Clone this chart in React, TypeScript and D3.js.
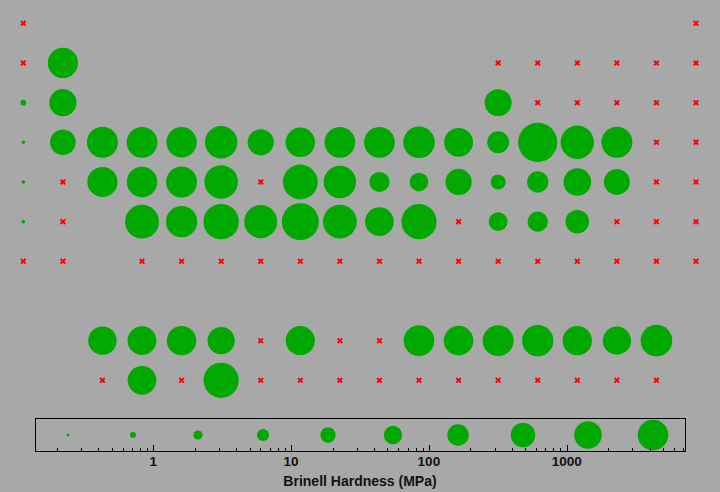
import React from "react";
import * as d3 from "d3";

// Element symbols in atomic-number order
const symbols = [
  "H","He","Li","Be","B","C","N","O","F","Ne","Na","Mg","Al","Si","P","S","Cl","Ar",
  "K","Ca","Sc","Ti","V","Cr","Mn","Fe","Co","Ni","Cu","Zn","Ga","Ge","As","Se","Br","Kr",
  "Rb","Sr","Y","Zr","Nb","Mo","Tc","Ru","Rh","Pd","Ag","Cd","In","Sn","Sb","Te","I","Xe",
  "Cs","Ba","La","Ce","Pr","Nd","Pm","Sm","Eu","Gd","Tb","Dy","Ho","Er","Tm","Yb","Lu",
  "Hf","Ta","W","Re","Os","Ir","Pt","Au","Hg","Tl","Pb","Bi","Po","At","Rn",
  "Fr","Ra","Ac","Th","Pa","U","Np","Pu","Am","Cm","Bk","Cf","Es","Fm","Md","No","Lr",
  "Rf","Db","Sg","Bh","Hs","Mt","Ds","Rg","Cn","Nh","Fl","Mc","Lv","Ts","Og",
];

// Brinell hardness (MPa), null = no data
const brinell: (number | null)[] = [
  null, null,                                                        // H He
  null, 600, null, null, null, null, null, null,                     // Li..Ne
  0.69, 260, 245, null, null, null, null, null,                      // Na..Ar
  0.363, 167, 750, 716, 628, 1120, 196, 490, 700, 700, 874, 412, 60, 7273, 1440, 736, null, null, // K..Kr
  0.216, null, 589, 650, 736, 1500, null, 2160, 1100, 37.3, 24.5, 203, 8.83, 51, 294, 180, null, null, // Rb..Xe
  0.14, null,                                                        // Cs Ba
  363, 412, 481, 265, null, 441, null, null, 677, 500, 746, 814, 471, 343, 893, // La..Lu
  1700, 800, 2570, 1320, 3920, 1670, 392, 2450, null, 26.4, 38.3, 94.2, null, null, null, // Hf..Rn
  null, null,                                                        // Fr Ra
  null, 400, null, 2400, null, null, null, null, null, null, null, null, null, null, null, // Ac..Lr
  null, null, null, null, null, null, null, null, null, null, null, null, null, null, null, // Rf..Og
];

const axisTickLabels = ["1", "10", "100", "1000"];
const axisTitle = "Brinell Hardness (MPa)";

// periodic-table layout: group (column) and display row from atomic number
function cellOf(z: number): { col: number; row: number } {
  if (z === 1) return { col: 1, row: 1 };
  if (z === 2) return { col: 18, row: 1 };
  if (z <= 4) return { col: z - 2, row: 2 };
  if (z <= 10) return { col: z + 8, row: 2 };
  if (z <= 12) return { col: z - 10, row: 3 };
  if (z <= 18) return { col: z, row: 3 };
  if (z <= 36) return { col: z - 18, row: 4 };
  if (z <= 54) return { col: z - 36, row: 5 };
  if (z <= 56) return { col: z - 54, row: 6 };
  if (z <= 71) return { col: z - 54, row: 9 };
  if (z <= 86) return { col: z - 68, row: 6 };
  if (z <= 88) return { col: z - 86, row: 7 };
  if (z <= 103) return { col: z - 86, row: 10 };
  return { col: z - 100, row: 7 };
}

const BG = "#a8a8a8";
const GREEN = "#00a800";
const RED = "#ff0000";

export default function App() {
  const W = 720, H = 492;
  const vals = brinell.filter((v) => v != null) as number[];
  const domain = [d3.min(vals)!, d3.max(vals)!];

  const x = d3.scaleLinear().domain([1, 18]).range([23.3, 696]);
  const y = d3.scaleLinear().domain([1, 10]).range([23.3, 380.3]);
  const rMain = d3.scaleLog().domain(domain).range([0, 19.6]);

  const legX0 = 35.5, legX1 = 685.5, legTop = 418.5, legBot = 451.5;
  const lx = d3.scaleLog().domain(domain).range([legX0, legX1]);
  const rLeg = d3.scaleLog().domain(domain).range([0.73, 16.06]);
  const ld = domain.map(Math.log10);
  const legendVals = d3.range(10).map((i) => Math.pow(10, ld[0] + ((i + 0.5) / 10) * (ld[1] - ld[0])));

  const minorTicks: number[] = [];
  for (let e = -1; e <= 3; e++)
    for (let k = 1; k <= 9; k++) {
      const v = k * Math.pow(10, e);
      if (v >= domain[0] && v <= domain[1]) minorTicks.push(v);
    }

  const elements = symbols.map((s, i) => ({ s, z: i + 1, v: brinell[i], ...cellOf(i + 1) }));

  return (
    <div style={{ position: "absolute", left: 0, top: 0 }}>
      <svg width={W} height={H} style={{ display: "block" }}>
        <rect x={0} y={0} width={W} height={H} fill={BG} />
        {elements.map((e) =>
          e.v != null ? (
            <circle key={e.s} cx={x(e.col)} cy={y(e.row)} r={Math.max(1.8, rMain(e.v))} fill={GREEN} />
          ) : (
            <path
              key={e.s}
              transform={`translate(${x(e.col)},${y(e.row)})`}
              d="M-2.3,-2.3L2.3,2.3M-2.3,2.3L2.3,-2.3"
              stroke={RED}
              strokeWidth={2}
              fill="none"
            />
          )
        )}
        {/* legend */}
        <rect x={legX0} y={legTop} width={legX1 - legX0} height={legBot - legTop} fill="none" stroke="#000" strokeWidth={1} shapeRendering="crispEdges" />
        {legendVals.map((v, i) => (
          <circle key={i} cx={lx(v)} cy={(legTop + legBot) / 2} r={rLeg(v)} fill={GREEN} />
        ))}
        {minorTicks.map((v) => {
          const major = [1, 10, 100, 1000].includes(Math.round(v * 1000) / 1000);
          const xx = Math.round(lx(v)) + 0.5;
          return (
            <line key={v} x1={xx} x2={xx} y1={legBot} y2={legBot - (major ? 7 : 4)} stroke="#000" strokeWidth={1} shapeRendering="crispEdges" />
          );
        })}
        {axisTickLabels.map((t) => (
          <text key={t} x={lx(+t)} y={466} textAnchor="middle" fontFamily="Liberation Sans, Arial, sans-serif" fontWeight="bold" fontSize={13.5} fill="#111">
            {t}
          </text>
        ))}
        <text x={360} y={485.5} textAnchor="middle" fontFamily="Liberation Sans, Arial, sans-serif" fontWeight="bold" fontSize={14} fill="#111">
          {axisTitle}
        </text>
      </svg>
    </div>
  );
}
